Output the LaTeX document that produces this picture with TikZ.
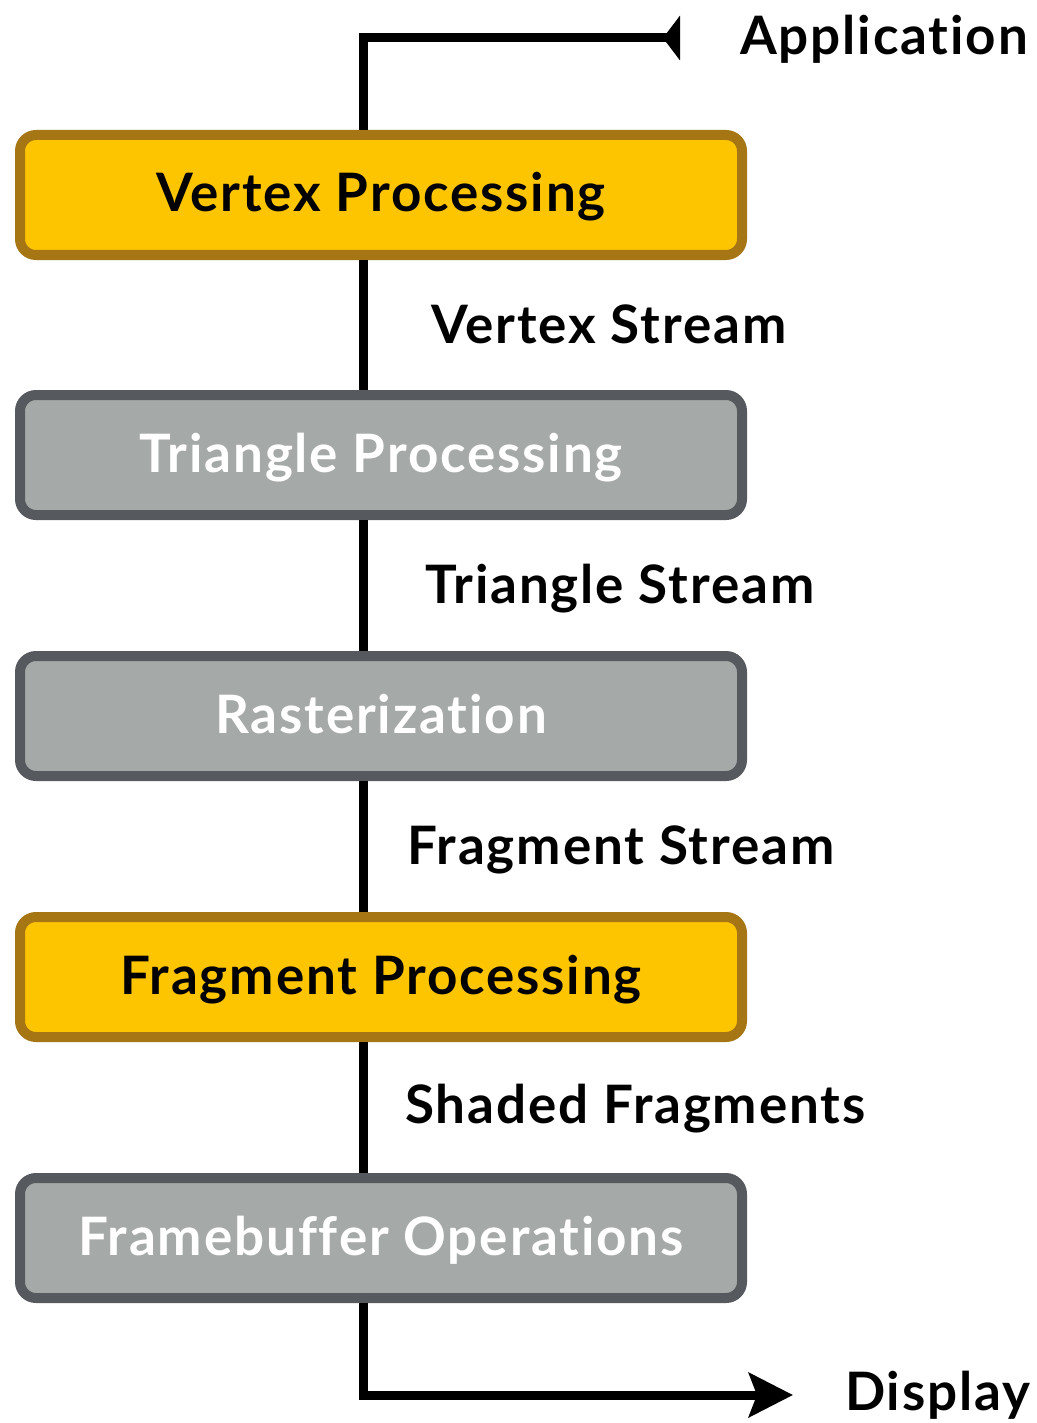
\documentclass[tikz,border=0pt]{standalone}
\usepackage{fontspec}
\setmainfont{Lato}[Ligatures=NoCommon, LetterSpace=3.5]
\usepackage{tikz}
\usetikzlibrary{arrows.meta}
\definecolor{stageyellow}{HTML}{FDC500}
\definecolor{stagebrown}{HTML}{A67514}
\definecolor{stagegray}{HTML}{A5A9A7}
\definecolor{stagedark}{HTML}{565A5F}

\begin{document}
\begin{tikzpicture}
	[x=1pt, y=-1pt,
	stage_style/.style={rectangle, rounded corners=16pt, line width=10pt,
		minimum width=722pt, minimum height=120pt, inner sep=0pt,
		text height=36pt, text depth=2pt,
		font=\fontsize{53}{60}\selectfont\bfseries},
	shader_style/.style={stage_style, draw=stagebrown, fill=stageyellow, text=black},
	fixed_style/.style={stage_style, draw=stagedark, fill=stagegray, text=white},
	label_style/.style={anchor=base west, inner sep=0pt, font=\fontsize{53}{60}\selectfont\bfseries},
	edge_style/.style={draw=black, line width=9pt}]
	\useasboundingbox (0,0) rectangle (1036,1423);

	\node[shader_style] (vp) at (381,195) {Vertex Processing};
	\node[fixed_style] (tp) at (381,455) {Triangle Processing};
	\node[fixed_style] (rs) at (381,716) {Rasterization};
	\node[shader_style] (fp) at (381,977) {Fragment Processing};
	\node[fixed_style] (fb) at (381,1238) {Framebuffer Operations};

	\coordinate (spine) at (363,0);
	\coordinate (app) at (680,38);
	\coordinate (disp) at (793,1395);
	\node[label_style] (applbl) at (740,55) {Application};
	\node[label_style] (displbl) at (845,1410) {Display};

	\node[label_style] (vs) at (431,343) {Vertex Stream};
	\node[label_style] (ts) at (425,603) {Triangle Stream};
	\node[label_style] (fs) at (407,864) {Fragment Stream};
	\node[label_style] (sf) at (405,1123) {Shaded Fragments};

	\draw[edge_style, {Triangle[reversed,length=17pt,width=44pt]}-]
		(app) -| (vp.north -| spine);
	\draw[edge_style] (vp.south -| spine) -- (tp.north -| spine);
	\draw[edge_style] (tp.south -| spine) -- (rs.north -| spine);
	\draw[edge_style] (rs.south -| spine) -- (fp.north -| spine);
	\draw[edge_style] (fp.south -| spine) -- (fb.north -| spine);
	\draw[edge_style, -{Stealth[length=44pt,width=44pt,inset=8pt]}]
		(fb.south -| spine) |- (disp);
\end{tikzpicture}
\end{document}
